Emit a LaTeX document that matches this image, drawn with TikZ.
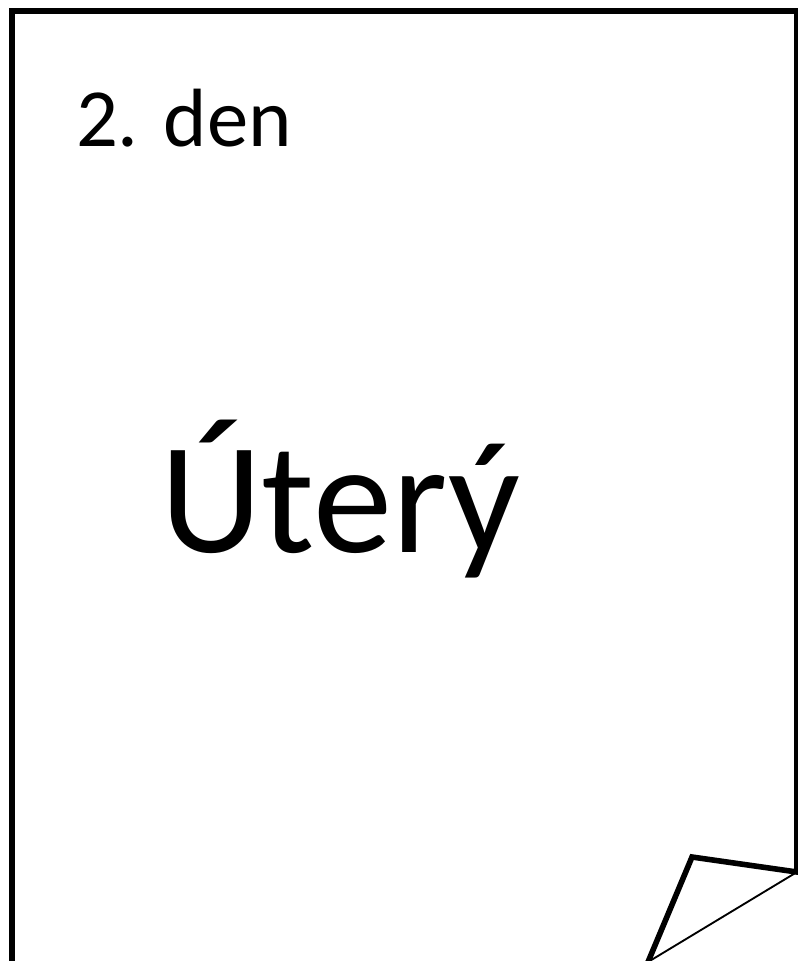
\documentclass[tikz,border=0pt]{standalone}
\usepackage{fontspec}
\setmainfont{Carlito}
\begin{document}
\begin{tikzpicture}[x=0.75pt,y=-0.75pt,
  pageline/.style={line width=4.2pt,line join=miter},
  foldline/.style={line width=1.4pt},
  lbl/.style={anchor=base west,inner sep=0pt,outer sep=0pt}]
\useasboundingbox (0,0) rectangle (798,961);
\clip (0,0) rectangle (798,961);
\coordinate (bl) at (12,975);
\coordinate (tl) at (12,11);
\coordinate (tr) at (797,11);
\coordinate (fr) at (797,872);
\coordinate (ft) at (692,857);
\coordinate (fb) at (648,962);
\draw[pageline] (bl) -- (tl) -- (tr) -- (fr) -- (ft) -- (fb);
\draw[foldline] (fr) -- (fb);
\node[lbl,font=\fontsize{62}{68}\selectfont] (day) at (76,146) {2. den};
\node[lbl,font=\fontsize{119}{126}\selectfont] (name) at (160,552) {Úterý};
\end{tikzpicture}
\end{document}
